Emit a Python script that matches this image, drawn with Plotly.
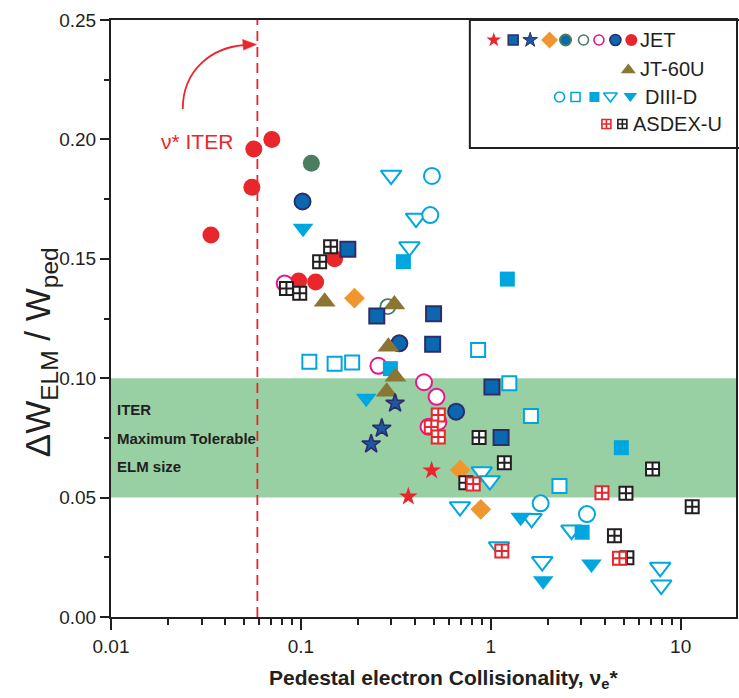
import plotly.graph_objects as go

# ---------------- data ----------------
jet_red_circle_x = [0.0336, 0.0552, 0.0565, 0.0703, 0.0974, 0.1196, 0.1505]
jet_red_circle_y = [0.160, 0.180, 0.196, 0.200, 0.1407, 0.1403, 0.150]
jet_green_circle_x = [0.1135]
jet_green_circle_y = [0.190]
jet_green_open_x = [0.287]
jet_green_open_y = [0.130]
jet_navy_circle_x = [0.102, 0.330, 0.657]
jet_navy_circle_y = [0.174, 0.1146, 0.086]
jet_magenta_open_x = [0.0822, 0.256, 0.445, 0.518, 0.470, 0.530]
jet_magenta_open_y = [0.1397, 0.1052, 0.0983, 0.0922, 0.0797, 0.0817]
jet_navy_square_x = [0.1767, 0.251, 0.4997, 0.494, 1.014, 1.133]
jet_navy_square_y = [0.154, 0.126, 0.127, 0.1142, 0.0963, 0.0752]
jet_navy_star_x = [0.3133, 0.2666, 0.2345]
jet_navy_star_y = [0.0895, 0.079, 0.0724]
jet_red_star_x = [0.488, 0.368]
jet_red_star_y = [0.0613, 0.0504]
jet_orange_diamond_x = [0.1915, 0.690, 0.886]
jet_orange_diamond_y = [0.1335, 0.0616, 0.0451]

jt60u_x = [0.1334, 0.3107, 0.289, 0.3147, 0.283]
jt60u_y = [0.132, 0.1309, 0.1132, 0.1006, 0.0943]

d3d_fsquare_x = [0.3465, 1.222, 0.296, 4.87, 3.027]
d3d_fsquare_y = [0.1488, 0.1415, 0.104, 0.0709, 0.0355]
d3d_osquare_x = [0.1108, 0.1505, 0.1862, 0.8577, 1.252, 1.627, 2.30]
d3d_osquare_y = [0.1069, 0.106, 0.1066, 0.1118, 0.0979, 0.0842, 0.0549]
d3d_ocircle_x = [0.49, 0.48, 1.83, 3.21]
d3d_ocircle_y = [0.1847, 0.1683, 0.0476, 0.0431]
d3d_otri_x = [0.2985, 0.404, 0.373, 0.896, 0.988, 0.688, 1.64, 2.66, 1.105, 1.866, 7.8, 7.9]
d3d_otri_y = [0.185, 0.167, 0.155, 0.0608, 0.0571, 0.0462, 0.0413, 0.0364, 0.0294, 0.0232, 0.0208, 0.0134]
d3d_ftri_x = [0.1026, 0.2207, 1.437, 1.888, 3.39]
d3d_ftri_y = [0.1628, 0.0916, 0.0418, 0.0152, 0.0222]

aug_red_x = [0.529, 0.486, 0.529, 0.808, 1.143, 3.85, 4.76]
aug_red_y = [0.0846, 0.0796, 0.0754, 0.0557, 0.0276, 0.052, 0.0246]
aug_black_x = [0.1434, 0.1255, 0.0839, 0.0986, 0.868, 1.179, 0.739, 7.11, 5.15, 11.5, 4.48, 5.21]
aug_black_y = [0.155, 0.1488, 0.1376, 0.1356, 0.0752, 0.0646, 0.0562, 0.062, 0.0518, 0.0462, 0.034, 0.0248]

nu_iter = 0.059
band_low, band_high = 0.05, 0.10
x_tick_vals = [0.01, 0.1, 1, 10]
x_tick_text = ["0.01", "0.1", "1", "10"]
y_tick_vals = [0.0, 0.05, 0.10, 0.15, 0.20, 0.25]
y_tick_text = ["0.00", "0.05", "0.10", "0.15", "0.20", "0.25"]

# ---------------- style ----------------
RED = "#e8262b"
NAVY_FILL = "#0a68b0"
NAVY_EDGE = "#2b2e6b"
STAR_FILL = "#1d59a3"
ORANGE = "#f0962f"
GREEN = "#4b7d5e"
MAGENTA = "#e6168c"
CYAN = "#00a7de"
OLIVE = "#8b7533"
BAND = "#98d0a4"
INK = "#231f20"
FONT = "Liberation Sans Narrow, Arial Narrow, Liberation Sans, Arial, sans-serif"

W, H = 739, 698
L, R, T, B = 111, 1, 20, 81
PW, PH = W - L - R, H - T - B


def fx(px):
    return (px - L) / PW


def fy(py):
    return (H - B - py) / PH


fig = go.Figure()


def add(x, y, symbol, size, color, line_color, lw=1.5):
    fig.add_trace(go.Scatter(
        x=x, y=y, mode="markers", showlegend=False, hoverinfo="skip",
        marker=dict(symbol=symbol, size=size, color=color,
                    line=dict(color=line_color, width=lw))))


# vertical ITER collisionality line
fig.add_trace(go.Scatter(x=[nu_iter, nu_iter], y=[0, 0.25], mode="lines",
                         line=dict(color=RED, width=1.8, dash="10px,6px"),
                         showlegend=False, hoverinfo="skip"))

# DIII-D open
add(d3d_otri_x, d3d_otri_y, "triangle-down", 18, "white", CYAN, 2)
add(d3d_ocircle_x, d3d_ocircle_y, "circle", 16, "white", CYAN, 2)
add(d3d_osquare_x, d3d_osquare_y, "square", 14, "white", CYAN, 2)
# JET circles
add(jet_red_circle_x, jet_red_circle_y, "circle", 17, RED, RED, 0)
add(jet_green_circle_x, jet_green_circle_y, "circle", 17, GREEN, GREEN, 0)
add(jet_green_open_x, jet_green_open_y, "circle", 15, "rgba(0,0,0,0)", GREEN, 1.8)
add(jet_magenta_open_x, jet_magenta_open_y, "circle", 16, "white", MAGENTA, 2)
add(jet_navy_circle_x, jet_navy_circle_y, "circle", 16, NAVY_FILL, NAVY_EDGE, 2)
# filled DIII-D
add(d3d_fsquare_x, d3d_fsquare_y, "square", 15, CYAN, CYAN, 0)
add(d3d_ftri_x, d3d_ftri_y, "triangle-down", 18, CYAN, CYAN, 0)
# JT-60U
add(jt60u_x, jt60u_y, "triangle-up", 19, OLIVE, OLIVE, 0)
# JET others
add(jet_navy_square_x, jet_navy_square_y, "square", 15, NAVY_FILL, NAVY_EDGE, 2)
add(jet_orange_diamond_x, jet_orange_diamond_y, "diamond", 16, ORANGE, ORANGE, 0)
add(jet_navy_star_x, jet_navy_star_y, "star", 14, STAR_FILL, NAVY_EDGE, 1.6)
add(jet_red_star_x, jet_red_star_y, "star", 14, RED, RED, 0)
# ASDEX-U
add(aug_black_x, aug_black_y, "square-cross", 13, "white", INK, 2)
add(aug_red_x, aug_red_y, "square-cross", 13, "white", RED, 2)

# ---------------- legend glyphs (overlay axes in plot fractions) ----------------
def leg(px, py, symbol, size, color, line_color, lw=1.2):
    fig.add_trace(go.Scatter(
        x=[fx(px)], y=[fy(py)], xaxis="x2", yaxis="y2", mode="markers",
        showlegend=False, hoverinfo="skip", cliponaxis=False,
        marker=dict(symbol=symbol, size=size, color=color,
                    line=dict(color=line_color, width=lw))))


ly1, ly2, ly3, ly4 = 40, 69, 97, 124
leg(495, ly1, "star", 11, RED, RED, 0)
leg(514.5, ly1, "square", 10, NAVY_FILL, NAVY_EDGE, 1.5)
leg(531.5, ly1, "star", 11, STAR_FILL, NAVY_EDGE, 1)
leg(551, ly1, "diamond", 13, ORANGE, ORANGE, 0)
leg(567, ly1, "circle", 11, NAVY_FILL, GREEN, 2)
leg(585, ly1, "circle", 10, "white", GREEN, 1.6)
leg(600.5, ly1, "circle", 10, "white", MAGENTA, 1.6)
leg(617, ly1, "circle", 11, NAVY_FILL, NAVY_EDGE, 1.6)
leg(633, ly1, "circle", 12, RED, RED, 0)
leg(630, ly2 + 1, "triangle-up", 13, OLIVE, OLIVE, 0)
leg(561, ly3, "circle", 10, "white", CYAN, 1.6)
leg(577, ly3, "square", 9, "white", CYAN, 1.6)
leg(596, ly3, "square", 10, CYAN, CYAN, 0)
leg(612, ly3 - 1, "triangle-down", 12, "white", CYAN, 1.6)
leg(632, ly3 - 1, "triangle-down", 12, CYAN, CYAN, 0)
leg(608, ly4, "square-cross", 9, "white", RED, 1.6)
leg(624, ly4, "square-cross", 9, "white", INK, 1.6)

# ---------------- layout ----------------
shapes = [
    dict(type="rect", xref="paper", yref="y", x0=0, x1=1, y0=band_low, y1=band_high,
         fillcolor=BAND, line=dict(width=0), layer="below"),
    dict(type="rect", xref="paper", yref="paper", x0=fx(471), x1=fx(760),
         y0=fy(148), y1=fy(20), line=dict(color=INK, width=2), fillcolor="rgba(0,0,0,0)"),
    dict(type="path", xref="paper", yref="paper",
         path="M {},{} C {},{} {},{} {},{}".format(fx(183), fy(109), fx(183), fy(70),
                                                   fx(212), fy(47), fx(246), fy(45)),
         line=dict(color=RED, width=1.8)),
    dict(type="path", xref="paper", yref="paper",
         path="M {},{} L {},{} L {},{} Z".format(fx(257), fy(44.5), fx(243), fy(39.5),
                                                 fx(244), fy(50)),
         fillcolor=RED, line=dict(color=RED, width=0.5)),
]


def ann(text, px, py, size, color=INK, xanchor="left", **kw):
    return dict(text=text, x=fx(px), y=fy(py), xref="paper", yref="paper",
                xanchor=xanchor, yanchor="middle", showarrow=False,
                font=dict(family=FONT, size=size, color=color), **kw)


annotations = [
    ann("\u03bd* ITER", 159, 141, 21, RED),
    ann("<b>ITER</b>", 115, 410, 15),
    ann("<b>Maximum Tolerable</b>", 115, 438, 15),
    ann("<b>ELM size</b>", 115, 466, 15),
    ann("JET", 640, ly1, 20),
    ann("JT-60U", 640, ly2, 20),
    ann("DIII-D", 645, ly3, 20),
    ann("ASDEX-U", 633, ly4, 20),
    ann("<b>Pedestal electron Collisionality, \u03bd<sub>e</sub>*</b>", 445, 679, 21,
        xanchor="center"),
    ann("\u0394W<sub>ELM</sub> / W<sub>ped</sub>", 40, 352, 35, xanchor="center",
        textangle=-90),
]

fig.update_layout(
    width=W, height=H,
    margin=dict(l=L, r=R, t=T, b=B, pad=0),
    plot_bgcolor="white", paper_bgcolor="white",
    showlegend=False,
    shapes=shapes, annotations=annotations,
    xaxis=dict(type="log", range=[-2, -2 + PW / 190.5],
               showline=True, linecolor=INK, linewidth=2, mirror=True,
               ticks="outside", ticklen=11, tickwidth=1.5, tickcolor=INK,
               tickvals=x_tick_vals, ticktext=x_tick_text,
               tickfont=dict(family=FONT, size=19, color=INK),
               minor=dict(ticks="outside", ticklen=6, tickwidth=1.5, tickcolor=INK,
                          tickvals=[m * d for d in (0.01, 0.1, 1, 10) for m in range(2, 10)],
                          showgrid=False),
               showgrid=False, zeroline=False),
    yaxis=dict(range=[0, 0.25],
               showline=True, linecolor=INK, linewidth=2, mirror=True,
               ticks="outside", ticklen=9, tickwidth=1.5, tickcolor=INK,
               tickvals=y_tick_vals, ticktext=y_tick_text,
               tickfont=dict(family=FONT, size=19, color=INK),
               minor=dict(ticks="outside", ticklen=5, tickwidth=1.5, tickcolor=INK,
                          tickvals=[0.025, 0.075, 0.125, 0.175, 0.225], showgrid=False),
               showgrid=False, zeroline=False),
    xaxis2=dict(overlaying="x", range=[0, 1], visible=False, anchor="y2"),
    yaxis2=dict(overlaying="y", range=[0, 1], visible=False, anchor="x2"),
)

fig.write_html("out.html")
